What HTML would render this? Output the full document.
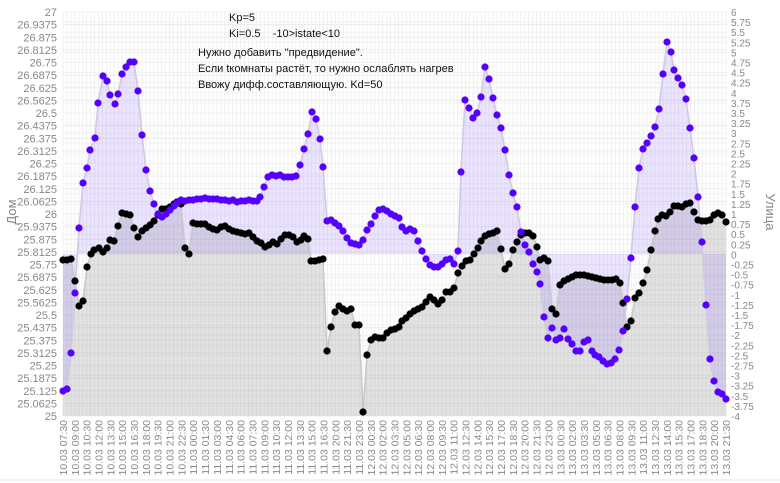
<!DOCTYPE html>
<html><head><meta charset="utf-8"><style>
html,body{margin:0;padding:0;background:#fff;width:780px;height:483px;overflow:hidden}
svg{display:block;font-family:"Liberation Sans",sans-serif}
</style></head><body>
<svg id="s" width="780" height="483" viewBox="0 0 780 483" xmlns="http://www.w3.org/2000/svg">
<rect width="780" height="483" fill="#fff"/>
<g id="grid"></g>
<g id="fills"></g>
<g id="lines"></g>
<g id="dots"></g>
<g id="ticks" font-size="11" fill="#888"></g>
<text x="16" y="212" font-size="13" fill="#888" text-anchor="middle" transform="rotate(-90 16 212)">Дом</text>
<text x="766" y="212" font-size="13" fill="#888" text-anchor="middle" transform="rotate(90 766 212)">Улица</text>
<g font-size="11" fill="#111">
<text x="229" y="21">Kp=5</text>
<text x="229" y="37">Ki=0.5&#160;&#160;&#160;&#160;-10&gt;istate&lt;10</text>
<text x="198" y="56">Нужно добавить "предвидение".</text>
<text x="198" y="72">Если tкомнаты растёт, то нужно ослаблять нагрев</text>
<text x="198" y="88">Ввожу дифф.составляющую. Kd=50</text>
</g>
<line x1="0" y1="480" x2="780" y2="480" stroke="#e4e4e4"/>
</svg>
<script>
const NS="http://www.w3.org/2000/svg";
function el(p,t,a){const e=document.createElementNS(NS,t);for(const k in a)e.setAttribute(k,a[k]);p.appendChild(e);return e;}
const X0=63,X1=727,Y0=12,Y1=416;
const g=document.getElementById('grid'),tk=document.getElementById('ticks');
const SP=(726-63)/56;
for(let x=X0;x<=X1+0.5;x+=SP/3)el(g,'line',{x1:x,x2:x,y1:Y0,y2:Y1,stroke:'#f0f0f0','stroke-width':1});
for(let i=0;i<=32;i++){const y=Y0+i*(Y1-Y0)/32;el(g,'line',{x1:X0,x2:X1,y1:y,y2:y,stroke:'#ececec'});
 const t=el(tk,'text',{x:57,y:y+4,'text-anchor':'end'});t.textContent=String(+(27-i*0.0625).toFixed(4));}
for(let j=0;j<=40;j++){const y=Y0+j*(Y1-Y0)/40;el(g,'line',{x1:X0,x2:X1,y1:y,y2:y,stroke:'#f2f2f2'});
 const t=el(tk,'text',{x:731,y:y+4,'font-size':10});t.textContent=String(+(6-j*0.25).toFixed(2));}
let m=7*60+30,d=10;
for(let i=0;i<57;i++){const x=X0+i*SP+4;const hh=Math.floor(m/60)%24,mm=m%60;
 const lab=String(d).padStart(2,'0')+'.03 '+String(hh).padStart(2,'0')+':'+String(mm).padStart(2,'0');
 const t=el(tk,'text',{x:x,y:420,'text-anchor':'end',transform:`rotate(-90 ${x} 420)`,'font-size':10.5,fill:'#8a8a8a'});t.textContent=lab;
 m+=(d===11&&m===16*60+30)?210:90;if(m>=24*60){m-=24*60;d++;}}
const P=[[63,391],[67,389],[71,353],[75,293],[79,228],[83,183],[87,168],[90,150],[95,138],[98,103],[103,76],[107,81],[110,95],[115,104],[118,94],[122,74],[126,67],[130,62],[134,62],[138,91],[142,135],[146,170],[150,191],[154,204],[158,214],[162,217],[166,214],[170,210],[174,206],[177,203],[181,200],[185,201],[189,200],[193,200],[197,199],[201,199],[205,198],[209,199],[213,199],[217,199],[221,200],[225,200],[229,201],[233,200],[237,202],[241,201],[245,201],[249,200],[253,201],[257,201],[260,197],[264,187],[268,177],[272,175],[276,176],[280,175],[284,177],[288,177],[292,177],[296,176],[300,165],[304,149],[308,134],[312,112],[316,119],[320,139],[323,167],[327,221],[331,220],[335,223],[339,226],[343,231],[347,238],[351,243],[355,244],[359,245],[363,240],[367,230],[371,224],[375,216],[379,210],[383,209],[387,211],[391,214],[395,216],[399,218],[402,227],[406,231],[410,229],[414,231],[418,241],[422,251],[426,259],[430,265],[434,267],[438,267],[442,264],[446,260],[450,259],[454,264],[458,251],[461,172],[465,100],[469,108],[473,118],[477,113],[481,97],[485,67],[489,79],[493,98],[497,115],[501,128],[505,150],[509,175],[513,193],[517,207],[521,232],[525,245],[529,252],[533,264],[537,272],[540,284],[544,317],[548,338],[552,328],[556,340],[560,338],[564,329],[568,339],[572,344],[576,351],[580,351],[584,342],[588,340],[592,351],[595,355],[599,357],[603,361],[607,364],[611,363],[615,359],[619,350],[623,331],[627,299],[631,258],[635,207],[639,168],[643,149],[647,143],[651,136],[655,127],[659,109],[663,74],[667,42],[671,52],[674,70],[678,78],[682,85],[686,99],[690,128],[694,158],[698,197],[702,242],[706,305],[710,359],[714,381],[718,392],[722,394],[726,399]];
const B=[[63,260],[67,260],[71,259],[75,281],[79,306],[83,301],[87,267],[91,254],[94,250],[99,248],[103,252],[107,248],[110,240],[114,241],[118,226],[122,213],[126,214],[130,215],[134,228],[138,237],[142,231],[146,228],[150,225],[154,221],[158,215],[162,209],[166,209],[170,207],[174,204],[177,202],[181,204],[185,248],[189,254],[193,223],[197,224],[201,224],[205,224],[209,227],[213,229],[217,230],[221,227],[225,226],[229,229],[233,231],[237,232],[241,233],[245,234],[249,233],[253,237],[257,241],[261,243],[265,247],[269,245],[273,242],[277,244],[281,239],[285,235],[289,235],[293,237],[297,242],[301,240],[304,236],[308,239],[311,261],[315,261],[319,260],[323,259],[327,351],[331,327],[335,312],[339,306],[343,309],[347,311],[351,309],[355,325],[359,325],[363,412],[367,355],[371,340],[375,337],[379,338],[383,338],[387,333],[391,330],[395,329],[399,327],[402,321],[406,318],[410,314],[414,311],[418,309],[422,307],[426,302],[430,297],[434,300],[438,304],[442,300],[446,292],[450,292],[454,288],[458,273],[462,266],[466,261],[470,260],[474,254],[478,248],[481,241],[485,236],[489,234],[493,233],[497,231],[501,249],[505,269],[509,264],[513,250],[517,242],[521,235],[525,233],[529,233],[533,236],[537,247],[540,260],[544,258],[548,261],[552,309],[556,314],[560,285],[564,281],[568,279],[572,277],[576,275],[580,275],[584,275],[588,276],[592,277],[596,278],[600,279],[604,280],[608,280],[612,280],[616,279],[620,283],[623,303],[627,327],[631,321],[635,298],[639,293],[643,283],[647,270],[651,250],[655,231],[658,219],[662,215],[666,216],[670,212],[674,206],[678,206],[682,207],[686,204],[690,203],[694,212],[698,220],[702,221],[706,221],[710,220],[714,215],[718,213],[722,215],[726,222]];
const f=document.getElementById('fills'),l=document.getElementById('lines'),dt=document.getElementById('dots');
const pts=a=>a.map(p=>p.join(',')).join(' ');
el(f,'polygon',{points:`${B[0][0]},${Y1} ${pts(B)} ${B[B.length-1][0]},${Y1}`,fill:'rgba(150,150,150,0.28)'});
el(f,'polygon',{points:`${P[0][0]},254 ${pts(P)} ${P[P.length-1][0]},254`,fill:'rgba(140,100,255,0.17)'});
el(l,'polyline',{points:pts(B),fill:'none',stroke:'#c8c8c8','stroke-width':1.5});
el(l,'polyline',{points:pts(P),fill:'none',stroke:'#cfc8e6','stroke-width':1.5});
B.forEach(p=>el(dt,'circle',{cx:p[0],cy:p[1],r:3.6,fill:'#000'}));
P.forEach(p=>el(dt,'circle',{cx:p[0],cy:p[1],r:3.6,fill:'#5500ff'}));
</script>
</body></html>
